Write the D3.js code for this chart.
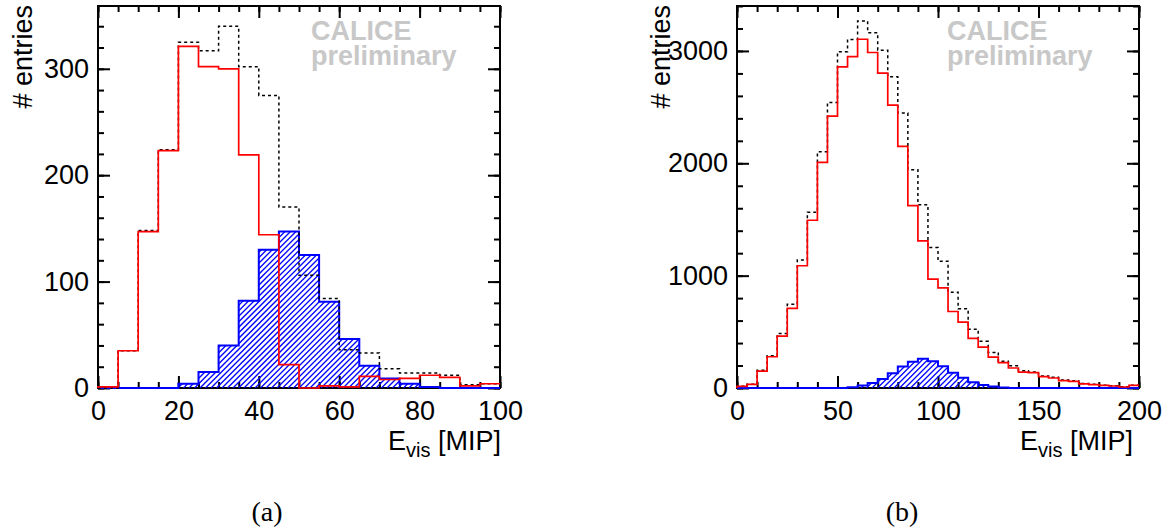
<!DOCTYPE html>
<html>
<head>
<meta charset="utf-8">
<script src="https://cdn.jsdelivr.net/npm/d3@7"></script>
<style>
  body { margin: 0; background: #fff; }
  svg { display: block; }
</style>
</head>
<body>
<div class="chart"></div>
<script>
// DATA -----------------------------------

// panel (a): bins of 5 MIP from 0 to 100
var binWidthA = 5;
var totalA = [0, 35, 148, 224, 325, 317, 340, 302, 275, 170, 106, 84, 36, 33, 18, 14, 14, 12, 3, 4];
var redA   = [1, 35, 147, 223, 321, 302, 300, 219, 144, 22, 0, 2, 1, 11, 8, 9, 12, 10, 2, 4];
var blueA  = [0, 0, 0, 0, 4, 15, 40, 82, 130, 147, 125, 81, 46, 21, 9, 4, 1, 0, 0, 0];

// panel (b): bins of 5 MIP from 0 to 200
var binWidthB = 5;
var totalB = [15, 33, 157, 287, 484, 745, 1140, 1564, 2103, 2542, 2992, 3102, 3267, 3163, 3007, 2770,
  2447, 1943, 1632, 1250, 1129, 853, 705, 524, 415, 317, 237, 198, 154, 142, 107, 95, 71, 65, 39, 33, 24, 21, 12, 24];
var redB   = [15, 33, 150, 278, 462, 708, 1088, 1493, 2008, 2420, 2858, 2950, 3104, 2986, 2803, 2518,
  2150, 1623, 1309, 969, 892, 681, 586, 441, 364, 275, 225, 178, 142, 136, 101, 89, 65, 59, 36, 30, 24, 18, 9, 24];
var blueB  = [0, 0, 0, 0, 0, 0, 0, 0, 0, 0, 0, 6, 22, 44, 80, 132, 192, 234, 260, 238,
  194, 136, 92, 52, 27, 13, 5, 0, 0, 0, 0, 0, 0, 0, 0, 0, 0, 0, 0, 0];

// axis ticks
var xMajorA = [0, 20, 40, 60, 80, 100];
var yMajorA = [0, 100, 200, 300];
var xMajorB = [0, 50, 100, 150, 200];
var yMajorB = [0, 1000, 2000, 3000];

// SET UP SVG -----------------------------------

var svgWidth = 1170;
var svgHeight = 532;

var svg = d3.select(".chart")
  .append("svg")
  .attr("width", svgWidth)
  .attr("height", svgHeight);

var defs = svg.append("defs");

var font = "'Liberation Sans', Arial, Helvetica, sans-serif";

// DRAW ONE PANEL -----------------------------------

function drawPanel(p) {

  var x = d3.scaleLinear().domain(p.xDomain).range([p.left, p.right]);
  var y = d3.scaleLinear().domain(p.yDomain).range([p.bottom, p.top]);

  var g = svg.append("g");

  // turn bin contents into step points
  function steps(values) {
    var pts = [[p.xDomain[0], 0]];
    values.forEach(function(v, i) { pts.push([p.xDomain[0] + i * p.binWidth, v]); });
    pts.push([p.xDomain[0] + values.length * p.binWidth, values[values.length - 1]]);
    return pts;
  }

  var line = d3.line()
    .x(d => x(d[0]))
    .y(d => y(d[1]))
    .curve(d3.curveStepAfter);

  var area = d3.area()
    .x(d => x(d[0]))
    .y0(y(0))
    .y1(d => y(d[1]))
    .curve(d3.curveStepAfter);

  // axes (ticks point inside the frame)
  var xMinor = d3.range(p.xDomain[0], p.xDomain[1] + 0.001, p.xMinorStep);
  var yMinor = d3.range(p.yDomain[0], p.yDomain[1] + 0.001, p.yMinorStep);

  function styleAxis(sel) {
    sel.select(".domain").remove();
    sel.selectAll("line").attr("stroke", "#000").attr("stroke-width", 2);
    sel.selectAll("text")
      .attr("font-family", font)
      .attr("font-size", 27)
      .attr("fill", "#000");
  }

  // bottom
  g.append("g").attr("transform", `translate(0, ${p.bottom})`)
    .call(d3.axisBottom(x).tickValues(xMinor).tickSize(-6).tickFormat(""))
    .call(styleAxis);
  g.append("g").attr("transform", `translate(0, ${p.bottom})`)
    .call(d3.axisBottom(x).tickValues(p.xMajor).tickSize(-12).tickPadding(13).tickFormat(d3.format("d")))
    .call(styleAxis);
  // top
  g.append("g").attr("transform", `translate(0, ${p.top})`)
    .call(d3.axisTop(x).tickValues(xMinor).tickSize(-6).tickFormat(""))
    .call(styleAxis);
  g.append("g").attr("transform", `translate(0, ${p.top})`)
    .call(d3.axisTop(x).tickValues(p.xMajor).tickSize(-12).tickFormat(""))
    .call(styleAxis);
  // left
  g.append("g").attr("transform", `translate(${p.left}, 0)`)
    .call(d3.axisLeft(y).tickValues(yMinor).tickSize(-6).tickFormat(""))
    .call(styleAxis);
  g.append("g").attr("transform", `translate(${p.left}, 0)`)
    .call(d3.axisLeft(y).tickValues(p.yMajor).tickSize(-12).tickPadding(9).tickFormat(d3.format("d")))
    .call(styleAxis);
  // right
  g.append("g").attr("transform", `translate(${p.right}, 0)`)
    .call(d3.axisRight(y).tickValues(yMinor).tickSize(-6).tickFormat(""))
    .call(styleAxis);
  g.append("g").attr("transform", `translate(${p.right}, 0)`)
    .call(d3.axisRight(y).tickValues(p.yMajor).tickSize(-12).tickFormat(""))
    .call(styleAxis);

  // frame
  g.append("rect")
    .attr("x", p.left)
    .attr("y", p.top)
    .attr("width", p.right - p.left)
    .attr("height", p.bottom - p.top)
    .attr("fill", "none")
    .attr("stroke", "#000")
    .attr("stroke-width", 2);

  // blue hatched histogram: diagonal lines clipped to the histogram area
  defs.append("clipPath")
    .attr("id", p.id + "-clip")
    .append("path")
    .attr("d", area(steps(p.blue)));

  var hatch = d3.range(p.left - (p.bottom - p.top), p.right, 5.5);
  g.append("g")
    .attr("clip-path", `url(#${p.id}-clip)`)
    .selectAll("line")
    .data(hatch)
    .enter()
    .append("line")
    .attr("x1", d => d)
    .attr("y1", p.bottom)
    .attr("x2", d => d + (p.bottom - p.top))
    .attr("y2", p.top)
    .attr("stroke", "#0000ff")
    .attr("stroke-width", 1.3);

  g.append("path")
    .attr("d", line(steps(p.blue)))
    .attr("fill", "none")
    .attr("stroke", "#0000ff")
    .attr("stroke-width", 2);

  // black dashed total
  g.append("path")
    .attr("d", line(steps(p.total)))
    .attr("fill", "none")
    .attr("stroke", "#000")
    .attr("stroke-width", 1.5)
    .attr("stroke-dasharray", "3,3");

  // red histogram
  g.append("path")
    .attr("d", line(steps(p.red)))
    .attr("fill", "none")
    .attr("stroke", "#ff0000")
    .attr("stroke-width", 1.7);

  // y title
  g.append("text")
    .attr("transform", `translate(${p.yTitleX}, ${p.top - 1}) rotate(-90)`)
    .attr("text-anchor", "end")
    .attr("font-family", font)
    .attr("font-size", 27)
    .text("# entries");

  // x title with subscript
  var xt = g.append("text")
    .attr("x", p.xTitleRight)
    .attr("y", 450)
    .attr("text-anchor", "end")
    .attr("font-family", font)
    .attr("font-size", 27);
  xt.append("tspan").text("E");
  xt.append("tspan").attr("font-size", 20).attr("dy", 7).text("vis");
  xt.append("tspan").attr("dy", -7).text(" [MIP]");

  // CALICE preliminary stamp
  g.append("text")
    .attr("x", p.stampX)
    .attr("y", 40)
    .attr("font-family", font)
    .attr("font-weight", "bold")
    .attr("font-size", 27)
    .attr("fill", "#c8c8c8")
    .text("CALICE");
  g.append("text")
    .attr("x", p.stampX)
    .attr("y", 65)
    .attr("font-family", font)
    .attr("font-weight", "bold")
    .attr("font-size", 27)
    .attr("fill", "#c8c8c8")
    .text("preliminary");

  // caption
  g.append("text")
    .attr("x", p.captionX)
    .attr("y", 521)
    .attr("text-anchor", "middle")
    .attr("font-family", "'Liberation Serif', 'Times New Roman', serif")
    .attr("font-size", 28)
    .text(p.caption);
}

drawPanel({
  id: "a",
  left: 98, right: 500, top: 6, bottom: 388,
  xDomain: [0, 100], yDomain: [0, 359],
  binWidth: binWidthA,
  total: totalA, red: redA, blue: blueA,
  xMajor: xMajorA, yMajor: yMajorA, xMinorStep: 5, yMinorStep: 20,
  yTitleX: 32, xTitleRight: 501, stampX: 311,
  caption: "(a)", captionX: 267
});

drawPanel({
  id: "b",
  left: 737, right: 1139, top: 6, bottom: 388,
  xDomain: [0, 200], yDomain: [0, 3400],
  binWidth: binWidthB,
  total: totalB, red: redB, blue: blueB,
  xMajor: xMajorB, yMajor: yMajorB, xMinorStep: 10, yMinorStep: 200,
  yTitleX: 670, xTitleRight: 1133, stampX: 947,
  caption: "(b)", captionX: 902
});
</script>
</body>
</html>
